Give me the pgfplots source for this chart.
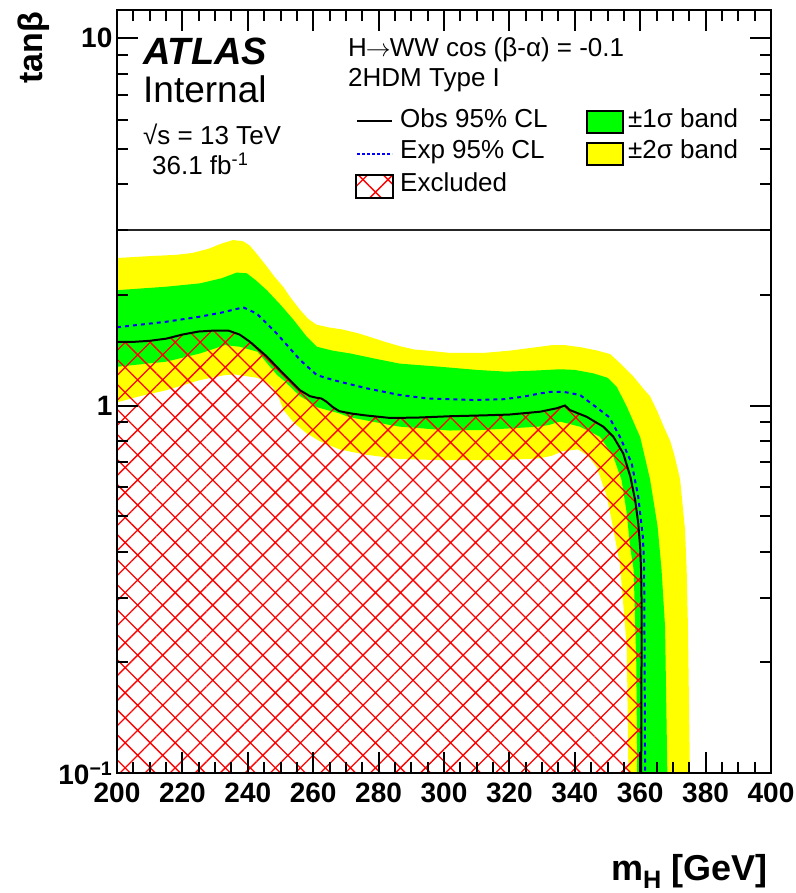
\documentclass[border=0pt]{standalone}
\usepackage{fontspec}
\setmainfont{Liberation Sans}
\usepackage{pgfplots}
\pgfplotsset{compat=1.18}
\usetikzlibrary{patterns.meta}

\definecolor{rootgreen}{RGB}{0,255,0}
\definecolor{rootyellow}{RGB}{255,255,0}
\definecolor{rootred}{RGB}{255,0,0}
\definecolor{rootblue}{RGB}{0,0,255}

\tikzset{
  excl/.style={pattern={Hatch[angle=45,distance=17.7bp,line width=1.3bp]}, pattern color=rootred},
  legtext/.style={anchor=base west, inner sep=0pt, font=\fontsize{26bp}{31bp}\selectfont},
}

\begin{document}
\begin{tikzpicture}
\begin{axis}[
  at={(0,0)}, anchor=south west,
  scale only axis, width=654bp, height=763bp,
  xmin=200, xmax=400,
  ymode=log, ymin=0.1, ymax=11.92,
  xtick={200,220,...,400}, minor x tick num=3,
  ytick={0.1,1,10}, yticklabels={10\textsuperscript{−1},1,10},
  minor ytick={0.2,0.3,0.4,0.5,0.6,0.7,0.8,0.9,2,3,4,5,6,7,8,9},
  tick align=inside, tick pos=both,
  major tick length=21bp, minor tick length=11bp,
  line width=2.6bp,
  tick style={black, line width=2bp},
  axis line style={line width=2.6bp},
  axis on top,
  /pgf/number format/assume math mode=true,
  /pgf/number format/1000 sep={},
  ticklabel style={font=\fontsize{28bp}{30bp}\selectfont\bfseries},
  xticklabel style={yshift=-5bp},
]
% +-2 sigma band
\addplot[draw=none, fill=rootyellow] coordinates {
 (200,2.52) (210,2.55) (218,2.57) (223,2.60) (228,2.67) (232,2.76) (235.5,2.82)
 (238.5,2.80) (240.5,2.73) (243,2.57) (245.8,2.39) (248,2.25) (250.9,2.10)
 (253,1.97) (256,1.82) (258.5,1.72) (261,1.66) (265,1.63) (269,1.61) (274,1.57)
 (278,1.53) (282,1.49) (286.5,1.45) (291,1.42) (295,1.41) (302,1.39) (312,1.39)
 (320,1.41) (328,1.44) (333,1.46) (337,1.46) (342,1.44) (347,1.41) (350.8,1.38)
 (354,1.30) (357.9,1.20) (361,1.11) (363,1.06) (365.1,0.97) (367.1,0.88)
 (369.2,0.80) (370.5,0.73) (372.2,0.63) (373.7,0.46) (374.2,0.36) (374.6,0.25)
 (375.2,0.1)
 (356.4,0.1) (355.9,0.22) (353.8,0.37) (351.8,0.46) (349.8,0.565) (348,0.63)
 (346.7,0.68) (344,0.73) (341,0.76) (336,0.75) (333,0.73) (329,0.718)
 (320,0.712) (309,0.71) (300,0.71) (286.5,0.715) (276,0.735) (268,0.76)
 (262,0.80) (258,0.84) (254,0.90) (251,0.97) (249.5,1.05) (247.7,1.12)
 (245,1.17) (242.8,1.19) (236,1.215) (233,1.21) (225.4,1.173) (215,1.10)
 (207,1.06) (200,1.02)
} -- cycle;
% +-1 sigma band
\addplot[draw=none, fill=rootgreen] coordinates {
 (200,2.06) (215,2.105) (225.4,2.15) (232,2.22) (236.6,2.30) (239.7,2.29)
 (242.5,2.19) (245.8,2.06) (250,1.88) (254,1.71) (258,1.54) (261.1,1.445)
 (266,1.41) (271.3,1.386) (278.4,1.344) (286.5,1.30) (298.8,1.275) (310,1.25)
 (319.1,1.236) (328,1.245) (335.5,1.255) (340,1.25) (345.7,1.223) (350,1.19)
 (352.8,1.125) (355.9,0.993) (358,0.90) (360,0.82) (363,0.63) (365.3,0.47)
 (366.5,0.36) (367.6,0.25) (368.3,0.1)
 (359.1,0.1) (358.8,0.2) (358.0,0.357) (356.9,0.413) (355.9,0.509)
 (354.3,0.627) (351.8,0.726) (347.7,0.822) (341.6,0.876) (335.5,0.904)
 (332,0.885) (329,0.876) (312,0.858) (301.8,0.855) (286.5,0.876) (283.5,0.885)
 (271,0.93) (268,0.952) (261,0.99) (258,1.035) (256,1.06) (251,1.17)
 (249,1.21) (246,1.30) (243,1.40) (237.6,1.445) (233,1.46) (225.4,1.386)
 (215,1.316) (200,1.275)
} -- cycle;
% excluded region below the observed limit
\addplot[draw=none, excl] coordinates {
 (200,1.49) (205,1.49) (210,1.50) (215,1.52) (220,1.56) (225,1.59) (230,1.60)
 (234,1.60) (237.5,1.56) (240.7,1.49) (245.8,1.36) (250.9,1.22) (256,1.10)
 (259,1.06) (261,1.05) (262.5,1.045) (264,1.025) (266,0.99) (268,0.965)
 (272,0.95) (276,0.94) (283.5,0.925) (291.6,0.927) (301.8,0.935) (312,0.94)
 (320,0.945) (329.4,0.962) (334.5,0.983) (337,1.0) (338.5,0.972) (343.6,0.932)
 (348.7,0.876) (351.8,0.822) (354.8,0.741) (357.0,0.64) (358.5,0.55)
 (359.4,0.478) (360.0,0.41) (360.3,0.35) (360.4,0.30) (360.4,0.2) (360.3,0.1)
 (200,0.1)
} -- cycle;
% expected limit
\addplot[rootblue, line width=2bp, dash pattern=on 4bp off 4bp] coordinates {
 (200,1.633) (215,1.69) (225.4,1.745) (232,1.79) (238.6,1.85) (242.7,1.78)
 (248.8,1.572) (256,1.33) (261.1,1.21) (266.1,1.173) (276.3,1.114)
 (286.5,1.068) (295,1.045) (301.8,1.04) (309,1.035) (318,1.04) (324.3,1.057)
 (329.4,1.079) (333,1.09) (336.5,1.09) (341.6,1.068) (347.7,0.972)
 (350.5,0.93) (353.8,0.822) (357.4,0.696) (359.4,0.565) (360.8,0.44)
 (361.2,0.372) (361.3,0.25) (361.5,0.1)
};
% observed limit
\addplot[black, line width=2bp] coordinates {
 (200,1.49) (205,1.49) (210,1.50) (215,1.52) (220,1.56) (225,1.59) (230,1.60)
 (234,1.60) (237.5,1.56) (240.7,1.49) (245.8,1.36) (250.9,1.22) (256,1.10)
 (259,1.06) (261,1.05) (262.5,1.045) (264,1.025) (266,0.99) (268,0.965)
 (272,0.95) (276,0.94) (283.5,0.925) (291.6,0.927) (301.8,0.935) (312,0.94)
 (320,0.945) (329.4,0.962) (334.5,0.983) (337,1.0) (338.5,0.972) (343.6,0.932)
 (348.7,0.876) (351.8,0.822) (354.8,0.741) (357.0,0.64) (358.5,0.55)
 (359.4,0.478) (360.0,0.41) (360.3,0.35) (360.4,0.30) (360.4,0.2) (360.3,0.1)
};
% separator between the plot and the legend area
\addplot[black!85, line width=2.2bp] coordinates {(200,3) (400,3)};
\end{axis}

% labels and legend
\node[anchor=base west, inner sep=0pt, font=\fontsize{38bp}{42bp}\selectfont\bfseries\itshape] at (26bp,708bp) {ATLAS};
\node[anchor=base west, inner sep=0pt, font=\fontsize{37bp}{41bp}\selectfont] at (26bp,670bp) {Internal};
\node[legtext] at (26bp,628bp) {√s = 13 TeV};
\node[legtext] at (35bp,598bp) {36.1 fb\textsuperscript{-1}};

\node[legtext] at (231bp,716bp) {H\kern-1bp$\rightarrow$\kern-1bp WW cos (β-α) = -0.1};
\node[legtext] at (231bp,686bp) {2HDM Type I};

\draw[black, line width=2bp] (240bp,652bp) -- (275bp,652bp);
\node[legtext] at (283bp,645bp) {Obs 95\% CL};
\draw[rootblue, line width=1.6bp, dash pattern=on 3bp off 2bp] (240bp,619bp) -- (275bp,619bp);
\node[legtext] at (283bp,614bp) {Exp 95\% CL};
\fill[excl] (239bp,575bp) rectangle (276bp,598bp);
\draw[black, line width=2bp] (239bp,575bp) rectangle (276bp,598bp);
\node[legtext] at (283bp,581bp) {Excluded};

\filldraw[fill=rootgreen, draw=black, line width=2bp] (470bp,640bp) rectangle (506bp,662bp);
\node[legtext] at (511bp,645bp) {±1σ band};
\filldraw[fill=rootyellow, draw=black, line width=2bp] (470bp,608bp) rectangle (506bp,630bp);
\node[legtext] at (511bp,614bp) {±2σ band};

\node[rotate=90, anchor=base east, inner sep=0pt, font=\fontsize{34bp}{38bp}\selectfont\bfseries] at (-74bp,761bp) {tanβ};
\node[anchor=base east, inner sep=0pt, font=\fontsize{36bp}{40bp}\selectfont\bfseries] at (651bp,-107bp) {m\textsubscript{H} [GeV]};

\pgfresetboundingbox
\path (-117bp,-120bp) rectangle (679bp,773bp);
\end{tikzpicture}
\end{document}
